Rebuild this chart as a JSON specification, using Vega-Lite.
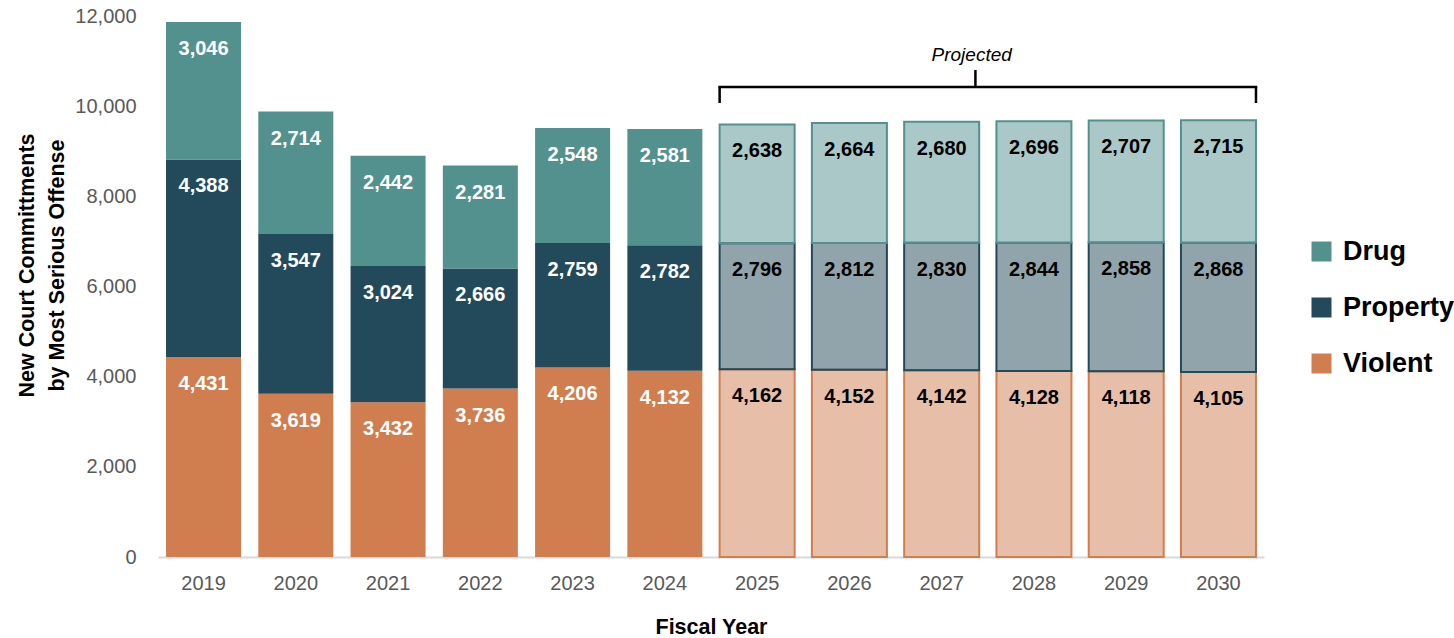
{
  "$schema": "https://vega.github.io/schema/vega-lite/v6.json",
  "width": 1106,
  "height": 541,
  "autosize": {"type": "none"},
  "padding": {"left": 158, "top": 16, "right": 190, "bottom": 81},
  "background": "white",
  "config": {
    "view": {"stroke": null},
    "axis": {"labelFont": "Liberation Sans", "titleFont": "Liberation Sans"}
  },
  "data": {
    "values": [
      {"year": "2019", "offense": "Violent", "value": 4431, "status": "Actual"},
      {"year": "2019", "offense": "Property", "value": 4388, "status": "Actual"},
      {"year": "2019", "offense": "Drug", "value": 3046, "status": "Actual"},
      {"year": "2020", "offense": "Violent", "value": 3619, "status": "Actual"},
      {"year": "2020", "offense": "Property", "value": 3547, "status": "Actual"},
      {"year": "2020", "offense": "Drug", "value": 2714, "status": "Actual"},
      {"year": "2021", "offense": "Violent", "value": 3432, "status": "Actual"},
      {"year": "2021", "offense": "Property", "value": 3024, "status": "Actual"},
      {"year": "2021", "offense": "Drug", "value": 2442, "status": "Actual"},
      {"year": "2022", "offense": "Violent", "value": 3736, "status": "Actual"},
      {"year": "2022", "offense": "Property", "value": 2666, "status": "Actual"},
      {"year": "2022", "offense": "Drug", "value": 2281, "status": "Actual"},
      {"year": "2023", "offense": "Violent", "value": 4206, "status": "Actual"},
      {"year": "2023", "offense": "Property", "value": 2759, "status": "Actual"},
      {"year": "2023", "offense": "Drug", "value": 2548, "status": "Actual"},
      {"year": "2024", "offense": "Violent", "value": 4132, "status": "Actual"},
      {"year": "2024", "offense": "Property", "value": 2782, "status": "Actual"},
      {"year": "2024", "offense": "Drug", "value": 2581, "status": "Actual"},
      {"year": "2025", "offense": "Violent", "value": 4162, "status": "Projected"},
      {"year": "2025", "offense": "Property", "value": 2796, "status": "Projected"},
      {"year": "2025", "offense": "Drug", "value": 2638, "status": "Projected"},
      {"year": "2026", "offense": "Violent", "value": 4152, "status": "Projected"},
      {"year": "2026", "offense": "Property", "value": 2812, "status": "Projected"},
      {"year": "2026", "offense": "Drug", "value": 2664, "status": "Projected"},
      {"year": "2027", "offense": "Violent", "value": 4142, "status": "Projected"},
      {"year": "2027", "offense": "Property", "value": 2830, "status": "Projected"},
      {"year": "2027", "offense": "Drug", "value": 2680, "status": "Projected"},
      {"year": "2028", "offense": "Violent", "value": 4128, "status": "Projected"},
      {"year": "2028", "offense": "Property", "value": 2844, "status": "Projected"},
      {"year": "2028", "offense": "Drug", "value": 2696, "status": "Projected"},
      {"year": "2029", "offense": "Violent", "value": 4118, "status": "Projected"},
      {"year": "2029", "offense": "Property", "value": 2858, "status": "Projected"},
      {"year": "2029", "offense": "Drug", "value": 2707, "status": "Projected"},
      {"year": "2030", "offense": "Violent", "value": 4105, "status": "Projected"},
      {"year": "2030", "offense": "Property", "value": 2868, "status": "Projected"},
      {"year": "2030", "offense": "Drug", "value": 2715, "status": "Projected"}
    ]
  },
  "layer": [
    {
      "transform": [
        {"stack": "value", "groupby": ["year"], "sort": [{"field": "offense", "order": "descending"}], "as": ["v0", "v1"]}
      ],
      "mark": {"type": "bar"},
      "encoding": {
        "x": {
          "field": "year", "type": "ordinal",
          "scale": {"domain": ["2019","2020","2021","2022","2023","2024","2025","2026","2027","2028","2029","2030"], "paddingInner": 0.187, "paddingOuter": 0.087},
          "axis": {
            "title": "Fiscal Year", "labelAngle": 0, "labelFontSize": 20, "labelColor": "#595959",
            "labelPadding": 16, "ticks": false, "tickSize": 0, "domainColor": "#d9d9d9", "domainWidth": 2,
            "titleFontSize": 21.5, "titleFontWeight": "bold", "titleColor": "#000000",
            "titleY": 76, "titleBaseline": "alphabetic"
          }
        },
        "y": {
          "field": "v1", "type": "quantitative",
          "scale": {"domain": [0, 12000], "nice": false},
          "axis": {
            "title": ["New Court Committments", "by Most Serious Offense"],
            "values": [0, 2000, 4000, 6000, 8000, 10000, 12000], "format": ",.0f",
            "labelFontSize": 20, "labelColor": "#595959", "labelPadding": 22,
            "ticks": false, "tickSize": 0, "domain": false, "grid": false,
            "titleFontSize": 21.5, "titleFontWeight": "bold", "titleColor": "#000000",
            "titleLineHeight": 30, "titleX": -125, "titleY": 249, "titleAngle": -90,
            "titleAlign": "center", "titleBaseline": "alphabetic"
          }
        },
        "y2": {"field": "v0"},
        "fill": {
          "field": "offense", "type": "nominal",
          "scale": {"domain": ["Drug", "Property", "Violent"], "range": ["#53918F", "#234A5A", "#D07E4F"]},
          "legend": {
            "title": null, "orient": "none", "legendX": 1150, "legendY": 222,
            "symbolType": "square", "symbolSize": 400, "symbolStrokeWidth": 0, "symbolOpacity": 1,
            "labelFont": "Liberation Sans", "labelFontSize": 27, "labelFontWeight": "bold",
            "labelColor": "#000000", "labelOffset": 8, "rowPadding": 28, "padding": 0
          }
        },
        "stroke": {
          "field": "offense", "type": "nominal",
          "scale": {"domain": ["Drug", "Property", "Violent"], "range": ["#53918F", "#234A5A", "#D07E4F"]},
          "legend": null
        },
        "fillOpacity": {"condition": {"test": "datum.status === 'Projected'", "value": 0.5}, "value": 1},
        "strokeWidth": {"condition": {"test": "datum.status === 'Projected'", "value": 2}, "value": 0}
      }
    },
    {
      "transform": [
        {"stack": "value", "groupby": ["year"], "sort": [{"field": "offense", "order": "descending"}], "as": ["v0", "v1"]}
      ],
      "mark": {"type": "text", "font": "Liberation Sans", "fontSize": 20, "fontWeight": "bold", "baseline": "middle", "align": "center", "dy": 27},
      "encoding": {
        "x": {"field": "year", "type": "ordinal"},
        "y": {"field": "v1", "type": "quantitative"},
        "text": {"field": "value", "type": "quantitative", "format": ","},
        "color": {"condition": {"test": "datum.status === 'Projected'", "value": "#000000"}, "value": "#ffffff"}
      }
    },
    {
      "data": {"values": [{"year": "2025", "year2": "2030", "y": 10425}]},
      "mark": {"type": "rule", "color": "#000000", "strokeWidth": 2.5, "strokeCap": "square"},
      "encoding": {
        "x": {"field": "year", "type": "ordinal", "bandPosition": 0},
        "x2": {"field": "year2", "bandPosition": 1},
        "y": {"field": "y", "type": "quantitative"}
      }
    },
    {
      "data": {"values": [{"year": "2025", "y": 10070, "y2": 10425}]},
      "mark": {"type": "rule", "color": "#000000", "strokeWidth": 2.5},
      "encoding": {
        "x": {"field": "year", "type": "ordinal", "bandPosition": 0},
        "y": {"field": "y", "type": "quantitative"},
        "y2": {"field": "y2"}
      }
    },
    {
      "data": {"values": [{"year": "2030", "y": 10070, "y2": 10425}]},
      "mark": {"type": "rule", "color": "#000000", "strokeWidth": 2.5},
      "encoding": {
        "x": {"field": "year", "type": "ordinal", "bandPosition": 1},
        "y": {"field": "y", "type": "quantitative"},
        "y2": {"field": "y2"}
      }
    },
    {
      "data": {"values": [{"year": "2027", "y": 10425, "y2": 10802}]},
      "mark": {"type": "rule", "color": "#000000", "strokeWidth": 2.5},
      "encoding": {
        "x": {"field": "year", "type": "ordinal", "bandPosition": 0.95},
        "y": {"field": "y", "type": "quantitative"},
        "y2": {"field": "y2"}
      }
    },
    {
      "data": {"values": [{"year": "2027", "y": 11135, "label": "Projected"}]},
      "mark": {"type": "text", "font": "Liberation Sans", "fontSize": 19, "fontStyle": "italic", "color": "#000000", "baseline": "middle", "align": "center"},
      "encoding": {
        "x": {"field": "year", "type": "ordinal", "bandPosition": 0.9},
        "y": {"field": "y", "type": "quantitative"},
        "text": {"field": "label"}
      }
    }
  ]
}
